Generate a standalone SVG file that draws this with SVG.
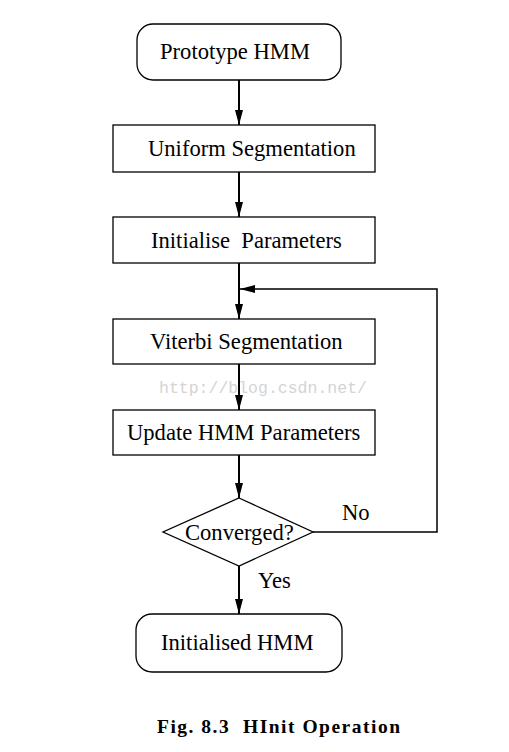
<svg xmlns="http://www.w3.org/2000/svg" width="509" height="752" viewBox="0 0 509 752">
<style>
.box{fill:#fff;stroke:#000;stroke-width:1.3}
.t{font-family:"Liberation Serif","Times New Roman",serif;font-size:22.6px;fill:#000}
.c{stroke:#000;stroke-width:2;fill:none}
.l{stroke:#000;stroke-width:1.5;fill:none}
.wm{font-family:"Liberation Mono",monospace;font-size:16.5px;fill:#d4d4d4}
.cap{font-family:"Liberation Serif","Times New Roman",serif;font-size:19.5px;font-weight:bold;fill:#000}
</style>
<defs>
<marker id="ah" markerWidth="15" markerHeight="8" refX="15" refY="4" orient="auto" markerUnits="userSpaceOnUse" viewBox="0 0 15 8">
<path d="M0,0 L15,4 L0,8 Z" fill="#000"/>
</marker>
</defs>
<rect width="509" height="752" fill="#fff"/>
<text class="wm" x="159" y="393">http://blog.csdn.net/</text>
<g id="connectors">
<line class="c" x1="239" y1="80" x2="239" y2="125" marker-end="url(#ah)"/>
<line class="c" x1="239" y1="172" x2="239" y2="217" marker-end="url(#ah)"/>
<line class="c" x1="239" y1="263" x2="239" y2="319" marker-end="url(#ah)"/>
<line class="c" x1="239" y1="364" x2="239" y2="410" marker-end="url(#ah)"/>
<line class="c" x1="239" y1="455" x2="239" y2="498" marker-end="url(#ah)"/>
<line class="c" x1="239" y1="566" x2="239" y2="614" marker-end="url(#ah)"/>
<polyline class="l" points="313,532 437,532 437,289 240,289" marker-end="url(#ah)"/>
<text class="t" x="342" y="520">No</text>
<text class="t" x="258" y="588">Yes</text>
</g>
<g id="prototype">
<rect class="box" x="137" y="24" width="204" height="56" rx="16"/>
<text class="t" x="160" y="59">Prototype HMM</text>
</g>
<g id="uniform">
<rect class="box" x="113" y="125" width="262" height="47"/>
<text class="t" x="148" y="156">Uniform Segmentation</text>
</g>
<g id="initialise">
<rect class="box" x="113" y="217" width="262" height="46"/>
<text class="t" x="151" y="248" xml:space="preserve">Initialise  Parameters</text>
</g>
<g id="viterbi">
<rect class="box" x="113" y="319" width="262" height="45"/>
<text class="t" x="150" y="349">Viterbi Segmentation</text>
</g>
<g id="update">
<rect class="box" x="113" y="410" width="262" height="45"/>
<text class="t" x="127" y="440">Update HMM Parameters</text>
</g>
<g id="converged">
<polygon class="box" points="239,498 313,532 239,566 163,532"/>
<text class="t" x="185" y="540">Converged?</text>
</g>
<g id="initialised">
<rect class="box" x="136" y="614" width="206" height="58" rx="16"/>
<text class="t" x="161" y="650">Initialised HMM</text>
</g>
<text class="cap" x="157" y="733" textLength="243" lengthAdjust="spacing" xml:space="preserve">Fig. 8.3  HInit Operation</text>
</svg>
